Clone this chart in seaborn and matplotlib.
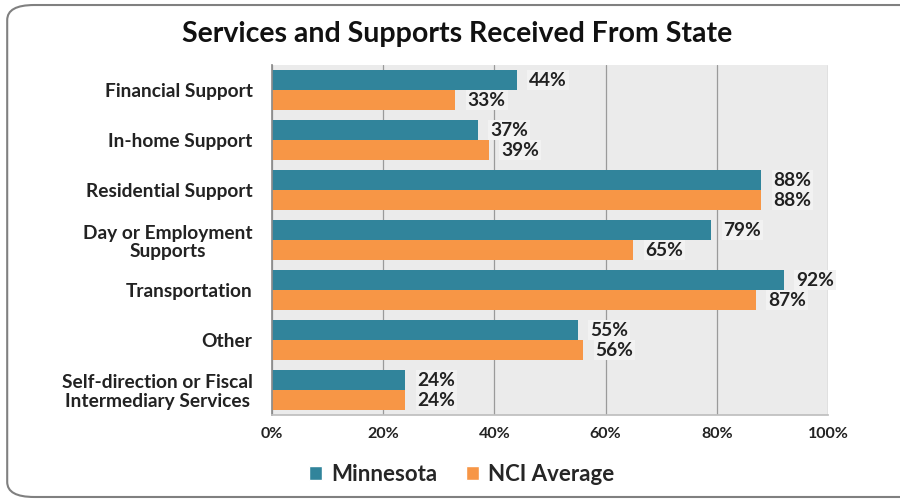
import matplotlib
matplotlib.use("Agg")
import matplotlib.pyplot as plt
import seaborn as sns
import pandas as pd
from matplotlib.patches import FancyBboxPatch, Patch

categories = ["Financial Support", "In-home Support", "Residential Support",
              "Day or Employment\nSupports", "Transportation", "Other",
              "Self-direction or Fiscal\nIntermediary Services"]
minnesota = [44, 37, 88, 79, 92, 55, 24]
nci_average = [33, 39, 88, 65, 87, 56, 24]
series_names = ["Minnesota", "NCI Average"]
x_ticks = [0, 20, 40, 60, 80, 100]
x_tick_labels = ["0%", "20%", "40%", "60%", "80%", "100%"]

df = pd.DataFrame({
    "Category": categories * 2,
    "Value": minnesota + nci_average,
    "Series": [series_names[0]] * len(categories) + [series_names[1]] * len(categories),
})

sns.set_theme(style="white")
plt.rcParams["font.family"] = ["Lato", "DejaVu Sans"]

colors = ["#31849B", "#F79646"]
fig = plt.figure(figsize=(9, 5.01), dpi=100)
ax = fig.add_axes([272 / 900, 1 - 415 / 501, 556 / 900, 350 / 501])

sns.barplot(data=df, x="Value", y="Category", hue="Series", orient="h",
            palette=colors, width=0.8, ax=ax, legend=False, saturation=1,
            linewidth=0)

ax.set_facecolor("#EBEBEB")
ax.set_xlim(0, 100)
ax.set_ylim(len(categories) - 0.5, -0.5)
ax.set_xticks(x_ticks)
ax.set_xticklabels(x_tick_labels, fontsize=11.5, fontweight="bold", color="#222222")
ax.set_xlabel("")
ax.set_ylabel("")
ax.grid(axis="x", color="#9A9A9A", linewidth=0.9)
ax.set_axisbelow(True)
for s in ["top", "right"]:
    ax.spines[s].set_visible(False)
ax.spines["left"].set_color("#8C8C8C")
ax.spines["bottom"].set_color("#BFBFBF")

ax.set_yticks(range(len(categories)))
ax.set_yticklabels(categories, fontsize=13.8, fontweight="bold", color="#222222",
                   ha="right", multialignment="center", linespacing=1.1)
ax.tick_params(axis="y", length=0, pad=14)
ax.tick_params(axis="x", length=0, pad=9)
ax.set_yticks([i - 0.5 for i in range(len(categories) + 1)], minor=True)
ax.tick_params(axis="y", which="minor", length=5, color="#8C8C8C", direction="out")

for c in ax.containers:
    for bar in c:
        w = bar.get_width()
        yc = bar.get_y() + bar.get_height() / 2
        ax.text(w + 2.2, yc, f"{w:.0f}%", va="center", ha="left", fontsize=13.8,
                fontweight="bold", color="#222222",
                bbox=dict(boxstyle="square,pad=0.1", facecolor="#F2F2F2",
                          edgecolor="none"))

fig.text(0.508, 0.932, "Services and Supports Received From State", ha="center",
         va="center", fontsize=20.5, fontweight="bold", color="#111111")

handles = [Patch(facecolor=colors[0]), Patch(facecolor=colors[1])]
fig.legend(handles, series_names, loc="center", bbox_to_anchor=(0.513, 0.053), ncol=2,
           frameon=False, handlelength=0.6, handleheight=0.6,
           columnspacing=1.3, handletextpad=0.4, prop={"weight": "bold", "size": 16})

border = FancyBboxPatch((0.008, 0.008), 1.2, 0.982, boxstyle="round,pad=0,rounding_size=0.03",
                        transform=fig.transFigure, facecolor="none", edgecolor="#808080",
                        linewidth=1.5, clip_on=False)
fig.patches.append(border)

fig.savefig("out.png", dpi=100)
